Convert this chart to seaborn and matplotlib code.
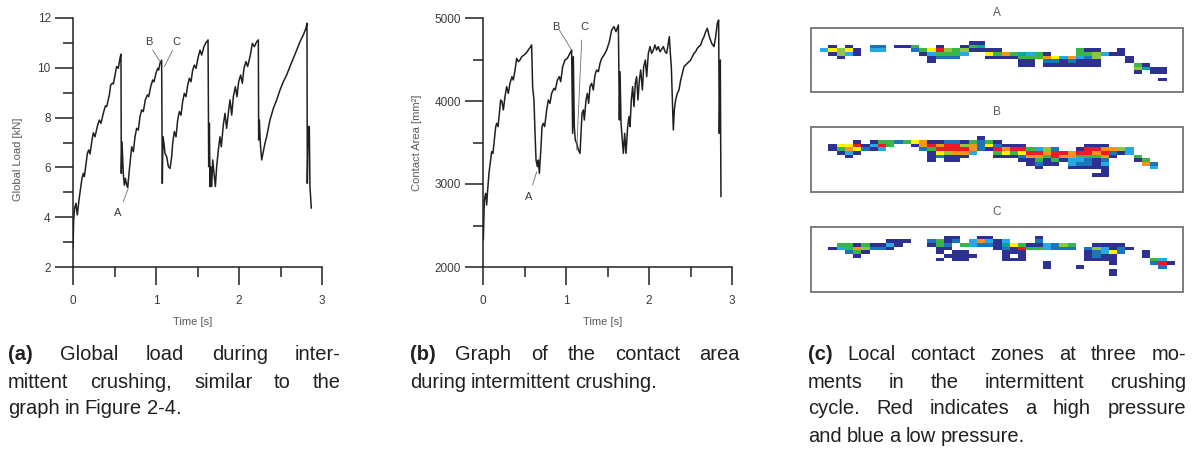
import numpy as np
import matplotlib
matplotlib.use("Agg")
import matplotlib.pyplot as plt
from matplotlib.colors import ListedColormap
from matplotlib import font_manager
import seaborn as sns

# ---------------------------------------------------------------- data
# (a) global load during intermittent crushing
load_t = [0.000, 0.008, 0.020, 0.036, 0.052, 0.072, 0.092, 0.108, 0.124, 0.137,
          0.157, 0.173, 0.189, 0.205, 0.229, 0.245, 0.265, 0.297, 0.317, 0.337,
          0.365, 0.390, 0.406, 0.438, 0.454, 0.474, 0.486, 0.510, 0.526, 0.546,
          0.566, 0.578, 0.582, 0.590, 0.598, 0.606, 0.618, 0.631, 0.647, 0.659,
          0.679, 0.707, 0.727, 0.747, 0.767, 0.787, 0.807, 0.827, 0.847, 0.871,
          0.896, 0.912, 0.936, 0.960, 0.976, 1.000, 1.020, 1.032, 1.048, 1.068,
          1.076, 1.084, 1.096, 1.108, 1.129, 1.149, 1.169, 1.189, 1.201, 1.221,
          1.241, 1.261, 1.281, 1.301, 1.321, 1.341, 1.361, 1.382, 1.402, 1.422,
          1.442, 1.462, 1.482, 1.510, 1.530, 1.550, 1.578, 1.602, 1.627, 1.635,
          1.643, 1.651, 1.659, 1.671, 1.683, 1.699, 1.715, 1.731, 1.751, 1.771,
          1.787, 1.811, 1.831, 1.851, 1.876, 1.892, 1.912, 1.932, 1.956, 1.976,
          1.996, 2.020, 2.040, 2.060, 2.084, 2.104, 2.133, 2.161, 2.185, 2.213,
          2.233, 2.237, 2.245, 2.257, 2.273, 2.289, 2.313, 2.333, 2.373, 2.414,
          2.454, 2.494, 2.534, 2.574, 2.614, 2.655, 2.695, 2.735, 2.775, 2.807,
          2.819, 2.823, 2.835, 2.847, 2.855, 2.871]
load_kN = [2.75, 3.89, 4.36, 4.56, 4.09, 4.69, 5.16, 5.56, 5.76, 5.63,
           6.16, 6.56, 6.70, 6.54, 7.10, 7.39, 7.23, 7.70, 7.90, 7.77,
           8.17, 8.47, 8.44, 8.91, 9.31, 9.38, 9.35, 9.78, 10.05, 9.98,
           10.38, 10.55, 5.76, 7.03, 6.43, 5.76, 5.29, 5.56, 5.29, 5.20,
           5.90, 6.83, 6.63, 7.23, 7.57, 7.50, 8.04, 8.31, 8.24, 8.71,
           8.91, 8.84, 9.24, 9.51, 9.44, 9.78, 9.98, 9.91, 10.18, 10.31,
           5.36, 7.23, 6.97, 6.56, 6.43, 6.03, 5.96, 6.43, 6.97, 7.44,
           7.23, 7.90, 8.24, 8.10, 8.64, 8.97, 8.84, 9.31, 9.58, 9.44,
           9.91, 10.11, 9.98, 10.45, 10.71, 10.51, 10.85, 11.01, 11.12, 6.03,
           7.77, 5.23, 6.03, 5.23, 6.30, 5.76, 5.23, 6.03, 6.70, 7.23,
           6.83, 7.70, 8.17, 7.57, 8.31, 8.71, 8.10, 8.84, 9.24, 8.84,
           9.44, 9.71, 9.38, 9.98, 10.25, 10.05, 10.45, 10.98, 10.85, 11.05,
           11.12, 7.10, 7.90, 6.97, 6.30, 6.56, 6.97, 7.23, 7.90, 8.37,
           8.71, 9.11, 9.44, 9.71, 10.05, 10.38, 10.71, 11.05, 11.32, 11.59,
           11.79, 5.36, 7.64, 7.64, 5.23, 4.36]

# (b) contact area during intermittent crushing
area_t = [0.004, 0.016, 0.032, 0.044, 0.056, 0.072, 0.092, 0.104, 0.120, 0.137,
          0.153, 0.165, 0.181, 0.197, 0.213, 0.229, 0.245, 0.265, 0.285, 0.305,
          0.325, 0.349, 0.365, 0.386, 0.406, 0.426, 0.446, 0.466, 0.494, 0.518,
          0.546, 0.574, 0.586, 0.598, 0.614, 0.627, 0.639, 0.655, 0.667, 0.679,
          0.687, 0.699, 0.711, 0.727, 0.743, 0.767, 0.787, 0.807, 0.827, 0.855,
          0.871, 0.896, 0.920, 0.936, 0.960, 0.988, 1.016, 1.048, 1.068, 1.080,
          1.088, 1.100, 1.112, 1.129, 1.149, 1.169, 1.177, 1.193, 1.209, 1.221,
          1.241, 1.257, 1.273, 1.289, 1.309, 1.329, 1.349, 1.369, 1.390, 1.410,
          1.430, 1.458, 1.490, 1.522, 1.550, 1.578, 1.602, 1.631, 1.643, 1.651,
          1.663, 1.679, 1.691, 1.707, 1.723, 1.743, 1.759, 1.771, 1.787, 1.803,
          1.819, 1.835, 1.851, 1.867, 1.884, 1.900, 1.920, 1.936, 1.956, 1.972,
          1.992, 2.012, 2.032, 2.052, 2.072, 2.092, 2.112, 2.133, 2.173, 2.193,
          2.213, 2.233, 2.245, 2.257, 2.269, 2.281, 2.293, 2.305, 2.321, 2.341,
          2.361, 2.382, 2.402, 2.422, 2.442, 2.462, 2.482, 2.502, 2.522, 2.542,
          2.562, 2.582, 2.602, 2.622, 2.643, 2.663, 2.683, 2.703, 2.727, 2.755,
          2.783, 2.803, 2.823, 2.839, 2.847, 2.859, 2.867]
area_mm2 = [2325, 2807, 2888, 2747, 2928, 3128, 3289, 3390, 3369, 3530,
            3691, 3731, 3691, 3851, 4012, 3992, 3892, 4052, 4173, 4092,
            4213, 4293, 4253, 4373, 4514, 4474, 4494, 4534, 4554, 4574,
            4614, 4655, 4675, 4173, 4012, 3610, 3289, 3209, 3289, 3128,
            3249, 3450, 3691, 3731, 3691, 3892, 4012, 3972, 4092, 4153,
            4133, 4253, 4293, 4233, 4414, 4494, 4514, 4574, 4614, 3610,
            4534, 3691, 3530, 3490, 3410, 3369, 3530, 3851, 3892, 3771,
            4012, 4092, 3972, 4173, 4213, 4133, 4313, 4373, 4353, 4454,
            4514, 4554, 4614, 4715, 4855, 4896, 4835, 4916, 3771, 4353,
            3731, 3530, 3369, 3610, 3369, 3691, 3811, 3691, 4012, 4173,
            3932, 4213, 4293, 4012, 4253, 4373, 4133, 4414, 4494, 4293,
            4574, 4655, 4574, 4614, 4675, 4614, 4655, 4594, 4655, 4594,
            4574, 4695, 4775, 4574, 4414, 4012, 3651, 3892, 4012, 4092,
            4133, 4253, 4333, 4414, 4434, 4454, 4474, 4494, 4534, 4574,
            4594, 4635, 4655, 4675, 4735, 4775, 4835, 4876, 4775, 4695,
            4655, 4775, 4936, 4976, 3610, 4494, 2847]

time_ticks = [0, 1, 2, 3]
time_minor = [0.5, 1.5, 2.5]
load_ticks = [2, 4, 6, 8, 10, 12]
load_minor = [3, 5, 7, 9, 11]
area_ticks = [2000, 3000, 4000, 5000]
area_minor = [2500, 3500, 4500]

# moments marked on the curves: (label, text position, leader start, leader end)
load_marks = [("A", (0.542, 4.17), (0.606, 4.62), (0.666, 5.16)),
              ("B", (0.916, 11.04), (0.960, 10.71), (1.048, 10.25)),
              ("C", (1.241, 11.04), (1.201, 10.71), (1.100, 10.04))]
area_marks = [("A", (0.546, 2847), (0.598, 2988), (0.647, 3148)),
              ("B", (0.876, 4895), (0.920, 4855), (1.068, 4614)),
              ("C", (1.221, 4895), (1.189, 4735), (1.129, 3410))]

# (c) local contact pressure per sensor cell, 45 columns wide.
# Each row: list of (first column, cell codes); '.' = no contact.
pressure_levels = {"n": 1, "b": 2, "c": 3, "t": 4, "g": 5, "l": 6, "y": 7, "o": 8, "r": 9}
level_colors = ["#2e3192", "#1c75bc", "#27aae1", "#00a79d", "#39b54a",
                "#8dc63f", "#fff200", "#f7941d", "#ed1c24"]

zone_A = [
    [(19, "nn")],
    [(2, "n.n..bb.nng..n..ngt")],
    [(1, "cylyn.cc...bgyrlglnnnn.........gnn..n")],
    [(2, "nlcn.......ncgggc..ygogtcgn...gglcnn")],
    [(3, "n..........nbbb...nnnngggoycocbl...n")],
    [(14, "n..........nn.bbnbnnn...n")],
    [(25, "nn.nnnnnnn....gn")],
    [(39, "ltnn")],
    [(39, "n.nn")],
    [],
    [(42, "n")],
]
zone_B = [
    [(20, "n")],
    [(5, "n.nggbgyonnbbngbgn")],
    [(2, "nyyrncrg..nororrlobybnnn.......nnn")],
    [(2, "ngoybnc....bgrrrrobnrorrgclb..nrroolc")],
    [(3, "ncn........nylooc..gygyrrorrorrorbnc")],
    [(4, "n.........nbnnn...nnnboogroogggon..g")],
    [(14, "n.nn.......nngngnccbnb...ng")],
    [(26, "nbnn.cbbnc....ob")],
    [(27, "n...nnnnn.....c")],
    [(35, "n")],
    [(34, "nn")],
]
zone_C = [
    [(16, "nn..nn.....n")],
    [(9, "nnn..bgnb.cocnc...b")],
    [(3, "ggngnncn...ngb.gcbbntygnncblg..nnnn")],
    [(2, "ncgolbbn.....nn.....nbnrggcbbb.blcnbn")],
    [(4, "bgn........n.nn....nnn.......nbcyb..n")],
    [(5, "n..........nnnn...n.n.......nbnn...n")],
    [(15, "n.nn....nnn.......nnnn....gc")],
    [(28, "n.......n....brn")],
    [(28, "n...n.........b")],
    [(36, "n")],
    [(36, "n")],
]

# ---------------------------------------------------------------- style
sns.set_theme(style="ticks")


def available(name):
    try:
        font_manager.findfont(font_manager.FontProperties(family=name),
                              fallback_to_default=False)
        return True
    except Exception:
        return False


sans = next((f for f in ["Liberation Sans", "DejaVu Sans"] if available(f)), "DejaVu Sans")
plt.rcParams["font.family"] = [sans, "DejaVu Sans"]

INK = "#231f20"
GREY = "#58595b"
W, H = 1195, 457

fig = plt.figure(figsize=(W / 100, H / 100), dpi=100)
fig.patch.set_facecolor("white")


def px_axes(x0, y0, x1, y1):
    """Axes placed by pixel box (left, top, right, bottom)."""
    return fig.add_axes([x0 / W, (H - y1) / H, (x1 - x0) / W, (y1 - y0) / H])


def style_line_axes(ax, ylim, major, minor, ylabel, ylab_x, ylab_y):
    ax.set_xlim(0, 3)
    ax.set_ylim(*ylim)
    ax.set_xticks(time_ticks)
    ax.set_xticks(time_minor, minor=True)
    ax.set_yticks(major)
    ax.set_yticks(minor, minor=True)
    for s in ("top", "right"):
        ax.spines[s].set_visible(False)
    for s in ("left", "bottom"):
        ax.spines[s].set_color(INK)
        ax.spines[s].set_linewidth(1.1)
    ax.tick_params(which="major", direction="out", length=13, width=1.1,
                   color=INK, labelsize=8.5, labelcolor="#3c3c3c")
    ax.tick_params(which="minor", direction="out", length=7, width=1.1, color=INK)
    ax.tick_params(axis="x", which="major", pad=7)
    ax.tick_params(axis="y", which="major", pad=3)
    ax.set_xlabel("Time [s]", fontsize=8, color=GREY)
    ax.set_ylabel(ylabel, fontsize=8, color=GREY)
    ax.xaxis.set_label_coords(0.48, -0.2)
    ax.yaxis.set_label_coords(ylab_x, ylab_y)
    ax.grid(False)


def mark(ax, marks):
    for label, txt, p0, p1 in marks:
        ax.text(*txt, label, fontsize=8, color="#3c3c3c", ha="center", va="center")
        ax.plot([p0[0], p1[0]], [p0[1], p1[1]], color="#6d6e71", lw=0.6)


# (a) global load
ax_a = px_axes(73, 18, 322, 267)
sns.lineplot(x=load_t, y=load_kN, ax=ax_a, sort=False, estimator=None,
             color=INK, linewidth=1.1)
style_line_axes(ax_a, (2, 12), load_ticks, load_minor, "Global Load [kN]", -0.2, 0.434)
mark(ax_a, load_marks)

# (b) contact area
ax_b = px_axes(483, 18, 732, 267)
sns.lineplot(x=area_t, y=area_mm2, ax=ax_b, sort=False, estimator=None,
             color=INK, linewidth=1.1)
style_line_axes(ax_b, (2000, 5000), area_ticks, area_minor, "Contact Area [mm²]", -0.245, 0.5)
mark(ax_b, area_marks)

# (c) local contact zones
pressure_cmap = ListedColormap(level_colors)


def zone_grid(rows, ncols=45):
    grid = np.full((len(rows), ncols), np.nan)
    for i, segments in enumerate(rows):
        for start, codes in segments:
            for k, ch in enumerate(codes):
                if ch in pressure_levels:
                    grid[i, start + k] = pressure_levels[ch]
    return grid


zones = [("A", zone_A, (28.3, 91.7), 41.0, 13),
         ("B", zone_B, (126.7, 191.7), 136.3, 112),
         ("C", zone_C, (226.7, 291.7), 235.7, 212)]
row_px = 3.67
for name, rows, (top, bottom), first_row_px, title_y in zones:
    ax = px_axes(811, top, 1183, bottom)
    grid = zone_grid(rows)
    sns.heatmap(grid, ax=ax, cmap=pressure_cmap, vmin=0.5, vmax=9.5, cbar=False,
                mask=np.isnan(grid), linewidths=0,
                xticklabels=False, yticklabels=False)
    off = (first_row_px - top) / row_px
    ax.set_ylim(-off + (bottom - top) / row_px, -off)
    ax.set_xlim(-0.12, 44.97)
    for sp in ax.spines.values():
        sp.set_visible(True)
        sp.set_color("#7d7d7d")
        sp.set_linewidth(1.4)
    ax.set_facecolor("white")
    fig.text(997 / W, 1 - title_y / H, name, fontsize=8.5, color=GREY,
             ha="center", va="center")

# ---------------------------------------------------------------- captions
CAP_SIZE = 14.5
renderer = fig.canvas.get_renderer()


def caption_line(text, x0, x1, y, justify=True):
    words = text.split()
    objs = []
    for w in words:
        bold = w.startswith("(") and w.endswith(")") and len(w) == 3
        objs.append(fig.text(0, 1 - y / H, w, fontsize=CAP_SIZE, color=INK,
                             fontweight="bold" if bold else "normal",
                             ha="left", va="center"))
    widths = [o.get_window_extent(renderer).width for o in objs]
    space = objs[0].get_fontsize() * 0.33
    if justify and len(objs) > 1:
        gap = (x1 - x0 - sum(widths)) / (len(objs) - 1)
    else:
        gap = space
    x = x0
    for o, w in zip(objs, widths):
        o.set_x(x / W)
        x += w + gap


captions = [
    (8, 341, [("(a) Global load during inter-", True),
              ("mittent crushing, similar to the", True),
              ("graph in Figure 2-4.", False)]),
    (410, 740, [("(b) Graph of the contact area", True),
                ("during intermittent crushing.", False)]),
    (808, 1186, [("(c) Local contact zones at three mo-", True),
                 ("ments in the intermittent crushing", True),
                 ("cycle. Red indicates a high pressure", True),
                 ("and blue a low pressure.", False)]),
]
line_y = [355, 382, 409, 436]
for x0, x1, lines in captions:
    for (text, just), y in zip(lines, line_y):
        caption_line(text, x0, x1, y, just)

fig.savefig("out.png", dpi=100, facecolor="white")
